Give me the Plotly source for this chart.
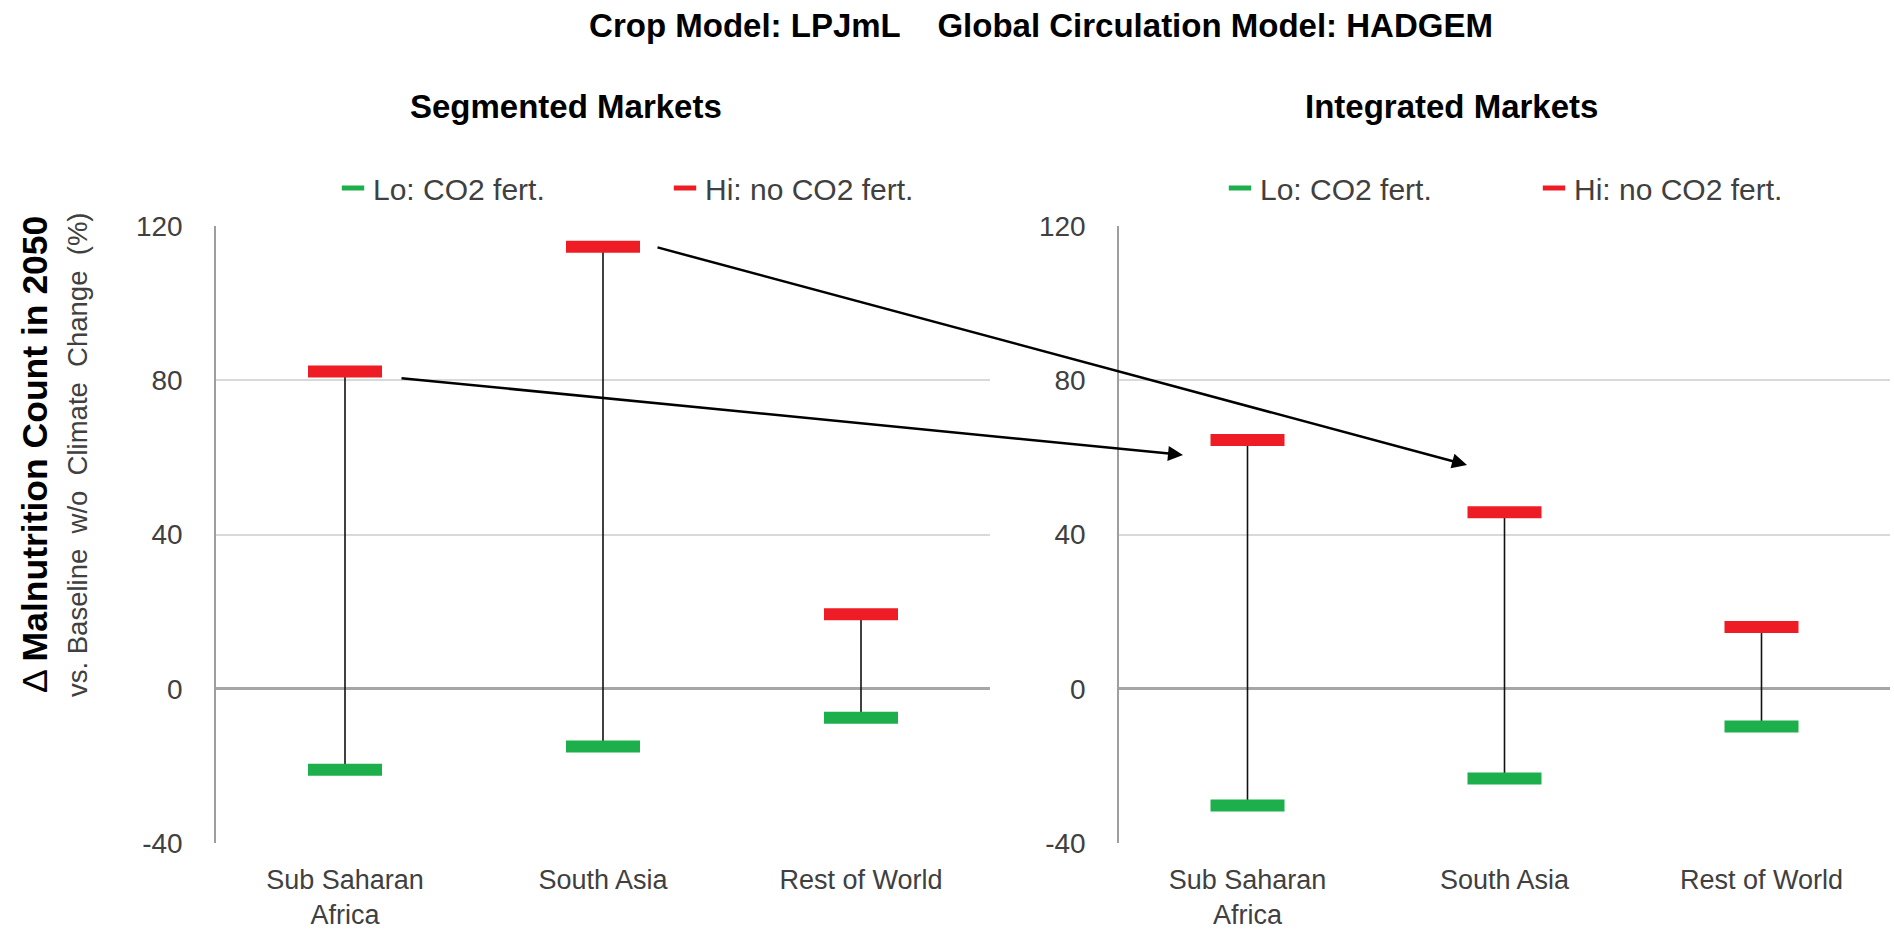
import plotly.graph_objects as go

# Regions on the category axis and their two-line tick labels
regions = ["Sub Saharan Africa", "South Asia", "Rest of World"]
region_labels = ["Sub Saharan<br>Africa", "South Asia", "Rest of World"]

# Change in malnutrition count in 2050 vs. baseline without climate change (%)
segmented_lo = [-21.0, -15.0, -7.5]    # Lo: CO2 fertilization
segmented_hi = [82.3, 114.6, 19.3]     # Hi: no CO2 fertilization
integrated_lo = [-30.3, -23.3, -9.8]
integrated_hi = [64.5, 45.8, 16.0]

y_ticks = [-40, 0, 40, 80, 120]
y_tick_labels = ["-40", "0", "40", "80", "120"]

GREEN = "#1DAF4B"
RED = "#EE1C25"
FONT = "Liberation Sans, Arial, sans-serif"
TEXT = "#404040"

W, H = 1894, 929

# plotly's line-ew symbol is 1.4x the marker size long
CAP_LEN = 74
CAP_SIZE = CAP_LEN / 1.4


def px_x(v):
    return v / W


def px_y(v):
    return 1 - v / H


fig = go.Figure()


def add_panel(lo, hi, xref, yref, legend):
    xs, ys = [], []
    for r, a, b in zip(regions, lo, hi):
        xs += [r, r, None]
        ys += [a, b, None]
    fig.add_trace(go.Scatter(
        x=xs, y=ys, mode="lines", line=dict(color="#111111", width=1.6),
        xaxis=xref, yaxis=yref, showlegend=False, hoverinfo="skip"))
    fig.add_trace(go.Scatter(
        x=regions, y=lo, mode="markers", name="Lo: CO2 fert.",
        marker=dict(symbol="line-ew", size=CAP_SIZE, color=GREEN,
                    line=dict(color=GREEN, width=12)),
        xaxis=xref, yaxis=yref, legend=legend))
    fig.add_trace(go.Scatter(
        x=regions, y=hi, mode="markers", name="Hi: no CO2 fert.",
        marker=dict(symbol="line-ew", size=CAP_SIZE, color=RED,
                    line=dict(color=RED, width=12)),
        xaxis=xref, yaxis=yref, legend=legend))


add_panel(segmented_lo, segmented_hi, "x", "y", "legend")
add_panel(integrated_lo, integrated_hi, "x2", "y2", "legend2")

y_dom = [px_y(843), px_y(226)]

xaxis_style = dict(
    type="category", categoryorder="array", categoryarray=regions,
    tickvals=regions, ticktext=region_labels, range=[-0.5, 2.5],
    showgrid=False, zeroline=False, showline=False, ticks="",
    ticklabelstandoff=18,
    tickfont=dict(family=FONT, size=27, color=TEXT),
)
yaxis_style = dict(
    range=[-40, 120], tickvals=y_ticks, ticktext=y_tick_labels,
    showgrid=True, gridcolor="#D9D9D9",
    gridwidth=2, zeroline=True, zerolinecolor="#A6A6A6", zerolinewidth=3,
    showline=True, linecolor="#9E9E9E", linewidth=1.5, ticks="",
    ticklabelstandoff=26,
    tickfont=dict(family=FONT, size=28, color=TEXT), domain=y_dom,
)

legend_style = dict(
    orientation="h", xanchor="left", yanchor="middle", y=px_y(188),
    font=dict(family=FONT, size=30, color=TEXT), bgcolor="rgba(0,0,0,0)",
    itemsizing="trace", tracegroupgap=0,
)

fig.update_layout(
    width=W, height=H,
    margin=dict(l=0, r=0, t=0, b=0, autoexpand=False),
    paper_bgcolor="white", plot_bgcolor="white",
    font=dict(family=FONT, color=TEXT),
    xaxis=dict(domain=[px_x(216), px_x(990)], anchor="y", **xaxis_style),
    yaxis=dict(anchor="x", **yaxis_style),
    xaxis2=dict(domain=[px_x(1119), px_x(1890)], anchor="y2", **xaxis_style),
    yaxis2=dict(anchor="x2", **yaxis_style),
    legend=dict(x=px_x(333), entrywidth=287, **legend_style),
    legend2=dict(x=px_x(1220), entrywidth=269, **legend_style),
    title=dict(
        text="Crop Model: LPJmL\u00a0\u00a0\u00a0\u00a0Global Circulation Model: HADGEM",
        x=px_x(1041), xanchor="center", y=px_y(25), yanchor="middle",
        font=dict(family=FONT, size=33, color="black", weight="bold"),
    ),
)

annotations = [
    dict(text="<b>Segmented Markets</b>", x=px_x(566), y=px_y(107)),
    dict(text="<b>Integrated Markets</b>", x=px_x(1451), y=px_y(107)),
]
for a in annotations:
    fig.add_annotation(xref="paper", yref="paper", showarrow=False,
                       xanchor="center", yanchor="middle",
                       font=dict(family=FONT, size=33, color="black"), **a)

# Two-line y-axis title
fig.add_annotation(
    text="\u0394 <b>Malnutrition Count in 2050</b>", textangle=-90,
    xref="paper", yref="paper", x=px_x(35), y=px_y(455),
    xanchor="center", yanchor="middle", showarrow=False,
    font=dict(family=FONT, size=35.5, color="black"))
fig.add_annotation(
    text="vs. Baseline\u00a0 w/o\u00a0 Climate\u00a0 Change\u00a0 (%)", textangle=-90,
    xref="paper", yref="paper", x=px_x(77), y=px_y(455),
    xanchor="center", yanchor="middle", showarrow=False,
    font=dict(family=FONT, size=27.5, color=TEXT))

# Arrows linking the segmented-market highs to the integrated-market highs
arrows = [
    dict(tip=(1183, 455), tail=(400, 378)),
    dict(tip=(1467, 465), tail=(656, 247)),
]
for a in arrows:
    fig.add_annotation(
        xref="paper", yref="paper", x=px_x(a["tip"][0]), y=px_y(a["tip"][1]),
        ax=a["tail"][0] - a["tip"][0], ay=a["tail"][1] - a["tip"][1],
        axref="pixel", ayref="pixel", text="", showarrow=True,
        arrowhead=2, arrowsize=1.2, arrowwidth=2.5, arrowcolor="black")

fig.write_html("out.html")
